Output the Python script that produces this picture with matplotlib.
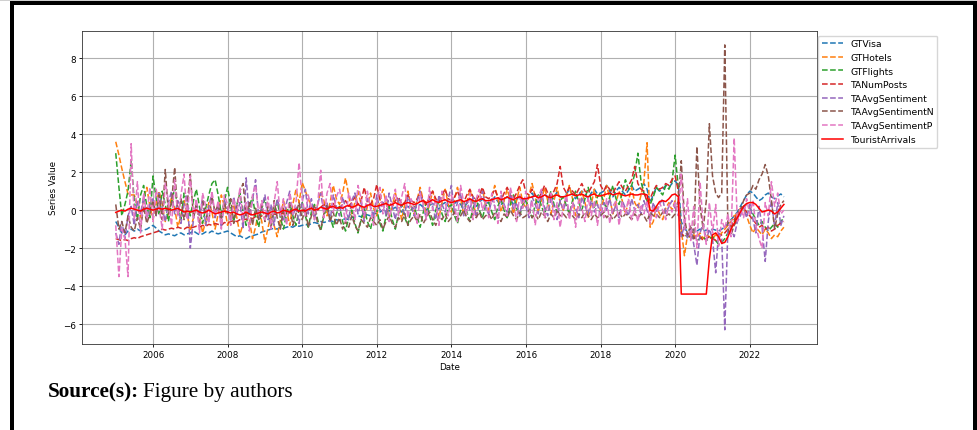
import matplotlib
matplotlib.use("Agg")
import matplotlib.pyplot as plt
import matplotlib.dates as mdates
from matplotlib.patches import Rectangle
import pandas as pd

dates = pd.date_range("2005-01-01", periods=216, freq="MS")

# monthly values, one row per year 2005..2022
gt_visa = [
    -0.6, -0.9, -1.2, -1.3, -1.1, -1.0, -1.1, -1.0, -1.1, -1.05, -1.0, -0.9,
    -0.8, -0.95, -1.1, -1.2, -1.3, -1.25, -1.3, -1.35, -1.25, -1.2, -1.3, -1.25,
    -1.2, -1.1, -1.2, -1.3, -1.25, -1.15, -1.2, -1.1, -1.2, -1.25, -1.2, -1.15,
    -1.1, -1.2, -1.3, -1.4, -1.35, -1.45, -1.5, -1.4, -1.35, -1.3, -1.25, -1.15,
    -1.1, -1.05, -1.0, -0.95, -1.0, -0.9, -0.95, -0.9, -0.85, -0.9, -0.8, -0.85,
    -0.8, -0.75, -0.8, -0.7, -0.65, -0.7, -0.6, -0.65, -0.6, -0.55, -0.6, -0.5,
    -0.55, -0.5, -0.45, -0.5, -0.4, -0.35, -0.3, -0.35, -0.2, -0.25, -0.3, -0.15,
    -0.2, -0.1, 0.0, 0.1, -0.05, 0.05, 0.15, 0.0, -0.1, 0.1, 0.2, 0.05,
    0.1, 0.2, 0.3, 0.15, 0.0, 0.25, 0.35, 0.2, 0.05, 0.3, 0.4, 0.2,
    0.25, 0.35, 0.5, 0.3, 0.1, 0.35, 0.55, 0.4, 0.2, 0.4, 0.6, 0.35,
    0.4, 0.5, 0.7, 0.45, 0.25, 0.5, 0.7, 0.55, 0.3, 0.55, 0.8, 0.5,
    0.55, 0.7, 0.9, 0.6, 0.4, 0.65, 0.85, 0.7, 0.45, 0.7, 0.95, 0.7,
    0.7, 0.85, 1.1, 0.8, 0.6, 0.85, 1.0, 0.85, 0.6, 0.9, 1.1, 0.85,
    0.9, 1.0, 1.3, 1.0, 0.7, 1.0, 1.2, 1.0, 0.8, 1.05, 1.3, 1.0,
    1.1, 1.2, 1.4, 1.1, 0.4, 0.8, 1.2, 1.0, 1.1, 1.3, 1.2, 1.4,
    1.55, 1.3, -0.6, -1.0, -1.1, -1.0, -1.05, -1.1, -1.0, -1.1, -1.05, -1.1,
    -1.0, -1.05, -1.1, -1.0, -0.9, -0.7, -0.5, -0.3, -0.1, 0.2, 0.5, 0.8,
    1.0, 0.9, 0.7, 0.5, 0.6, 0.8, 0.9, 0.7, 0.6, 0.75, 0.85, 0.7,
]

gt_hotels = [
    3.6, 2.9, 2.2, 1.5, 0.85, 0.8, 0.8, 0.3, -0.4, 0.6, 1.2, 0.2,
    -0.5, 0.4, 1.0, 0.3, -0.6, -0.2, 0.7, 0.1, -0.9, -0.3, 0.5, -0.2,
    -1.1, -0.4, 0.3, -0.3, -1.2, -0.6, 0.4, -0.1, -1.0, -0.2, 0.8, 0.2,
    -0.8, -0.3, 0.3, -0.4, -1.3, -0.7, 0.2, -0.5, -1.5, -0.9, 0.0, -0.6,
    -1.7, -0.9, -0.2, -0.8, -1.4, -0.5, 0.5, 0.0, -0.8, 0.3, 1.1, 0.4,
    1.45, 1.0, 0.6, 0.2, -0.4, 0.3, 1.0, 0.5, -0.3, 0.4, 1.3, 0.6,
    0.3, 0.9, 1.7, 0.8, -0.2, 0.4, 1.0, 0.3, -0.5, 0.2, 0.9, 0.1,
    -0.3, 0.5, 1.1, 0.4, -0.4, 0.2, 0.9, 0.3, -0.5, 0.3, 1.0, 0.2,
    -0.2, 0.6, 1.2, 0.5, -0.3, 0.3, 1.0, 0.4, -0.4, 0.4, 1.1, 0.3,
    -0.1, 0.6, 1.2, 0.6, -0.2, 0.4, 1.1, 0.4, -0.3, 0.4, 1.1, 0.3,
    0.0, 0.7, 1.3, 0.6, -0.1, 0.5, 1.1, 0.5, -0.2, 0.5, 1.2, 0.4,
    0.1, 0.8, 1.4, 0.7, -0.1, 0.5, 1.2, 0.5, -0.2, 0.5, 1.2, 0.4,
    0.0, 0.7, 1.3, 0.6, -0.3, 0.3, 1.0, 0.4, -0.4, 0.3, 1.1, 0.3,
    0.0, 0.6, 1.3, 0.6, -0.2, 0.4, 1.0, 0.5, -0.2, 0.5, 1.2, 0.4,
    0.1, 0.8, 1.5, 3.55, -0.9, -0.6, 0.2, -0.2, -0.5, 0.1, 0.4, 0.0,
    0.5, 0.3, -1.0, -2.4, -1.3, -1.5, -1.3, -1.4, -1.2, -1.5, -1.3, -1.4,
    -1.5, -1.3, -1.4, -1.2, -1.0, -0.8, -0.6, -0.3, -0.2, 0.1, 0.0, -0.3,
    -0.8, -1.2, -0.9, -1.1, -1.3, -1.0, -1.2, -1.5, -1.3, -1.4, -1.1, -0.9,
]

gt_flights = [
    3.0, 1.2, -0.3, 0.3, 1.0, 2.6, 0.5, -0.5, 0.8, 1.3, 0.2, -0.4,
    1.8, 0.6, -0.2, 1.0, 0.3, -0.6, 0.4, 1.2, 0.0, -0.5, 0.9, 0.4,
    -0.3, 0.5, 1.1, 0.2, -0.7, 0.1, 0.8, 1.4, 1.6, 0.8, -0.2, 0.5,
    1.2, 0.2, -0.6, 0.3, 0.9, -0.1, -0.8, 0.2, 0.7, -0.3, -0.9, 0.1,
    0.6, -0.2, -0.9, -0.1, 0.5, -0.4, -1.0, -0.2, 0.4, -0.3, -0.8, 0.0,
    0.4, -0.3, -0.9, -0.1, 0.3, -0.5, -1.1, -0.3, 0.2, -0.4, -0.9, -0.2,
    0.2, -0.6, -1.1, -0.4, 0.0, -0.7, -1.2, -0.5, 0.1, -0.6, -1.0, -0.3,
    0.0, -0.7, -1.1, -0.3, 0.2, -0.5, -1.0, -0.2, 0.3, -0.4, -0.8, 0.0,
    0.2, -0.4, -0.9, -0.1, 0.4, -0.3, -0.8, 0.0, 0.5, -0.2, -0.6, 0.1,
    0.3, -0.3, -0.7, 0.0, 0.5, -0.1, -0.6, 0.1, 0.6, 0.0, -0.4, 0.2,
    0.4, -0.1, -0.5, 0.2, 0.6, 0.0, -0.4, 0.3, 0.8, 0.1, -0.3, 0.3,
    0.5, 0.0, -0.4, 0.3, 0.8, 0.2, -0.2, 0.4, 1.0, 0.3, -0.1, 0.5,
    0.7, 0.2, -0.2, 0.5, 1.0, 0.4, 0.0, 0.6, 1.2, 0.5, 0.1, 0.7,
    0.9, 0.4, 0.1, 0.7, 1.3, 0.6, 0.3, 0.9, 1.6, 1.1, 1.3, 1.9,
    3.0, 1.5, 0.9, 0.5, 0.3, 0.7, 1.2, 1.0, 0.8, 1.3, 1.1, 1.5,
    2.9, 1.2, -1.3, -1.4, -1.3, -1.5, -1.4, -1.6, -1.5, -1.4, -1.6, -1.5,
    -1.4, -1.6, -1.8, -1.7, -1.5, -1.2, -0.9, -0.6, -0.3, 0.0, 0.2, 0.3,
    0.1, -0.2, -0.5, -0.8, -0.6, -0.9, -1.1, -0.9, -0.7, -0.9, -0.6, -0.4,
]

ta_num_posts = [
    -1.5, -1.55, -1.6, -1.55, -1.6, -1.5, -1.45, -1.5, -1.4, -1.35, -1.3, -1.25,
    -1.2, -1.15, -1.1, -1.0, -1.05, -1.0, -0.95, -1.0, -0.9, -0.95, -1.0, -0.9,
    -0.95, -0.9, -0.85, -0.9, -0.8, -0.85, -0.75, -0.8, -0.7, -0.75, -0.8, -0.65,
    -0.7, -0.6, -0.55, -0.6, -0.5, -0.45, -0.5, -0.4, -0.45, -0.35, -0.4, -0.3,
    -0.35, -0.25, -0.3, -0.2, -0.25, -0.15, -0.2, -0.1, -0.15, -0.05, 0.0, -0.1,
    -0.05, 0.05, 0.0, 0.1, 0.2, 0.0, 0.15, 0.3, 0.1, 0.2, 0.35, 0.15,
    0.1, 0.3, 0.5, 0.2, 0.4, 0.7, 0.3, 0.5, 1.2, 0.4, 0.3, 0.6,
    1.35, 0.5, 0.3, 0.6, 0.4, 0.2, 0.5, 0.7, 0.3, 0.4, 0.8, 0.5,
    0.4, 0.6, 0.9, 0.5, 0.3, 0.7, 1.0, 0.6, 0.4, 0.8, 1.1, 0.6,
    0.5, 0.7, 1.0, 0.6, 0.4, 0.8, 1.1, 0.7, 0.5, 0.8, 1.2, 0.7,
    0.6, 0.8, 1.1, 0.7, 0.5, 0.9, 1.2, 0.8, 0.6, 0.9, 1.3, 1.6,
    0.9, 0.8, 1.1, 0.8, 0.6, 0.9, 1.3, 0.9, 0.7, 1.0, 1.4, 2.3,
    1.2, 0.9, 1.2, 1.0, 0.8, 1.1, 1.4, 1.0, 0.9, 1.2, 1.5, 2.4,
    1.3, 1.0, 1.3, 1.1, 0.9, 1.2, 1.5, 1.2, 1.0, 1.3, 1.6, 2.3,
    1.4, 1.1, 1.0, 0.4, 0.6, 1.0, 1.3, 1.1, 1.2, 1.4, 1.3, 1.6,
    1.8, 1.0, -1.2, -1.4, -1.3, -1.4, -1.5, -1.3, -1.4, -1.6, -1.5, -1.4,
    -1.5, -1.6, -1.4, -1.3, -1.2, -1.0, -0.8, -0.5, -0.2, 0.0, 0.1, -0.1,
    -0.3, -0.5, -0.7, -0.9, -0.8, -1.0, -0.9, -1.1, -1.0, -0.8, -0.7, -0.6,
]

ta_avg_sentiment = [
    -1.2, -1.8, -0.6, -1.5, -0.3, 0.2, -0.8, 0.5, -0.2, 0.7, -0.5, 0.3,
    0.6, -0.3, 0.9, 0.1, -0.6, 0.4, 1.0, -0.2, 0.5, -0.7, 0.3, 0.8,
    -2.0, -0.5, 0.4, -0.3, 0.6, -0.8, 0.2, 0.9, -0.4, 0.3, -0.9, 0.5,
    0.1, -0.6, 0.7, -0.2, 0.4, -1.0, 1.7, -0.3, 0.5, 1.6, -0.4, 0.2,
    0.8, -0.5, 0.3, -0.8, 0.6, 0.0, -0.6, 0.4, 1.0, -0.3, 0.2, -0.7,
    0.5, 1.1, -0.2, 0.6, -0.5, 0.3, 0.9, -0.1, 0.4, -0.6, 0.8, 0.2,
    -0.3, 0.7, 0.1, -0.5, 0.5, 0.9, -0.2, 0.4, -0.6, 0.6, 0.2, -0.4,
    0.8, 0.0, 0.5, -0.3, 0.9, 0.2, -0.5, 0.6, 0.1, -0.2, 0.7, 0.3,
    -0.3, 0.5, 1.0, 0.1, -0.4, 0.6, 0.2, -0.5, 0.8, 0.3, -0.1, 0.6,
    1.3, -0.2, 0.4, 0.9, -0.3, 0.5, 0.0, 0.7, -0.4, 0.3, 1.0, 0.1,
    -0.2, 0.6, 0.2, -0.5, 0.8, 0.3, -0.1, 0.9, 0.0, 0.4, -0.3, 0.7,
    0.2, -0.4, 0.7, 0.3, -0.2, 1.0, 0.1, -0.3, 0.6, 0.2, -0.5, 0.5,
    0.0, 0.6, -0.3, 0.4, 0.1, -0.4, 0.7, 0.2, -0.2, 0.5, -0.1, 0.3,
    -0.3, 0.4, 0.0, 0.6, -0.2, 0.3, -0.4, 0.5, 0.1, -0.3, 0.6, 0.0,
    0.3, -0.2, 0.5, 0.0, -0.5, 0.4, -0.1, 0.3, 0.6, -0.2, 0.2, 0.5,
    0.1, 0.4, -1.4, -0.8, -1.5, -0.9, -1.8, -2.9, -1.2, -0.7, -1.6, -1.0,
    -1.5, -3.3, -1.2, -1.5, -6.3, -0.9, -1.0, -1.4, -0.6, -0.3, 0.2, -0.4,
    0.3, -0.5, -1.2, 0.2, -0.9, -2.7, -0.6, 0.5, -0.9, 0.4, -0.8, -0.3,
]

ta_avg_sentiment_n = [
    0.3, -1.0, -0.6, -1.2, -0.3, -0.9, -1.1, -0.4, -1.0, 0.2, -0.7, -0.2,
    0.5, -0.3, 0.8, -0.5, 2.14, -0.2, 0.4, 2.25, -0.3, 0.6, -0.5, 0.3,
    1.9, -0.4, 0.3, -0.8, 0.5, -0.2, -0.6, 0.7, -0.1, 0.3, -0.5, 0.4,
    -0.2, 0.6, -0.7, 0.2, 1.0, 1.4, -0.3, 0.4, -0.8, 0.1, -0.5, 0.3,
    -0.6, 0.2, -0.9, 0.5, -0.4, -1.0, 0.1, -0.6, 0.3, -0.8, -0.2, 0.4,
    -0.5, 0.1, -0.9, -0.3, 0.2, -0.7, -1.0, -0.2, 0.3, -0.6, -0.1, -0.8,
    -0.4, -1.0, -0.6, -0.9, -0.3, -0.8, -1.1, -0.5, -0.7, -0.9, -0.4, -0.6,
    -0.8, -0.5, -1.0, -0.6, -0.3, -0.7, -0.9, -0.4, -0.6, -0.2, -0.8, -0.5,
    -0.3, -0.6, -0.2, -0.7, -0.4, -0.1, -0.5, -0.8, -0.3, -0.5, -0.2, -0.6,
    -0.4, -0.1, -0.5, -0.3, 0.0, -0.4, -0.6, -0.2, -0.4, -0.1, -0.5, -0.3,
    -0.2, -0.5, -0.1, -0.3, -0.6, -0.2, -0.4, 0.0, -0.3, -0.5, -0.1, -0.4,
    -0.3, 0.0, -0.4, -0.2, -0.5, -0.1, -0.3, -0.6, -0.2, -0.4, 0.0, -0.3,
    -0.2, -0.4, -0.1, -0.3, -0.5, -0.2, -0.4, -0.1, -0.3, -0.5, -0.2, -0.4,
    -0.3, -0.1, -0.4, -0.2, -0.5, -0.3, -0.1, -0.4, -0.2, -0.3, -0.5, -0.2,
    -0.4, -0.2, -0.3, -0.6, -0.1, -0.3, -0.2, -0.4, -0.1, -0.3, -0.2, -0.4,
    -0.2, 0.5, 2.6, -0.4, -1.3, -0.8, -1.5, 3.35, 0.2, -1.0, 0.5, 4.55,
    1.8, 0.9, 0.66, 0.9, 8.7, -1.0, -1.3, -0.8, -0.5, 0.0, 0.5, 0.8,
    0.9, 1.3, 1.1, 1.6, 1.9, 2.4, 1.8, 0.5, -1.0, -0.2, 0.3, 0.5,
]

ta_avg_sentiment_p = [
    -0.8, -3.5, -1.0, -1.5, -3.5, 3.5, -0.5, 1.5, -1.2, 0.9, -0.4, 1.2,
    -0.6, 1.1, 0.2, -1.0, 1.4, 0.5, -0.8, 1.6, -0.3, 0.8, 1.9, -0.5,
    1.8, -0.4, 0.6, -1.2, 0.9, 0.2, -0.7, 1.0, -0.3, 0.5, -1.0, 0.8,
    0.3, -0.8, 0.6, -0.2, 1.2, -0.6, 0.4, -1.1, 0.8, 1.3, -0.2, 0.5,
    -0.5, 0.7, -1.0, 0.4, 1.5, -0.3, 0.6, -0.8, 0.9, -0.2, 0.4, 2.5,
    0.6, -0.3, 0.8, 0.1, -0.5, 0.3, 2.1, -0.4, 0.9, 1.4, -0.1, 0.7,
    1.1, 0.2, -0.6, 0.9, 0.4, -0.5, 1.3, 0.6, -0.3, 1.0, 0.1, -0.8,
    0.5, 1.2, -0.2, 0.8, -0.6, 0.4, 1.1, -0.3, 0.7, 1.4, -0.4, 0.6,
    0.1, -0.7, 0.9, 0.3, -0.5, 1.2, 0.0, 0.6, -0.8, 1.0, 0.4, -0.3,
    0.8, 0.2, -0.6, 1.3, 0.4, -0.2, 0.9, -0.5, 0.6, 1.1, 0.0, 0.5,
    -0.4, 0.9, 0.3, -0.7, 1.0, 0.2, -0.3, 1.2, 0.5, -0.6, 0.8, 0.1,
    1.0, -0.2, 0.5, -0.8, 0.7, 1.1, -0.4, 0.3, 0.9, -0.5, 0.4, -0.9,
    0.2, 0.8, -0.5, 0.4, -0.9, 0.6, 0.1, -0.6, 0.7, -0.3, 0.5, -0.8,
    0.3, -0.4, 0.6, -0.7, 0.2, 0.5, -0.8, 0.4, -0.2, 0.6, -0.5, 0.1,
    -0.6, 0.3, -0.2, 0.5, -0.7, 0.2, -0.4, 0.4, 0.0, -0.5, 0.3, -0.1,
    0.4, -0.3, 1.9, -1.0, 0.6, -1.6, 0.2, -2.0, 1.5, -0.8, -1.8, 0.4,
    -1.2, 0.3, -1.9, -0.5, -1.0, -0.2, -1.4, 3.8, -0.6, 0.1, -0.4, 0.6,
    -0.2, 0.5, -0.8, -1.5, -2.0, 0.4, -0.3, 1.5, 0.2, 0.9, -0.2, 0.0,
]

tourist_arrivals = [
    -0.12, -0.05, 0.0, -0.05, 0.05, 0.1, 0.05, 0.0, -0.05, 0.05, 0.1, 0.05,
    0.0, 0.05, 0.1, 0.05, 0.1, 0.05, 0.0, 0.05, 0.1, 0.0, -0.1, -0.05,
    -0.1, -0.05, 0.0, -0.1, -0.15, -0.1, 0.0, -0.1, -0.2, -0.15, -0.1, -0.05,
    -0.1, -0.15, -0.1, -0.2, -0.25, -0.2, -0.1, -0.2, -0.25, -0.2, -0.15, -0.1,
    -0.15, -0.2, -0.1, -0.05, -0.15, -0.1, 0.0, -0.05, -0.1, 0.0, 0.05, -0.05,
    0.0, -0.05, 0.05, 0.1, 0.0, 0.05, 0.15, 0.1, 0.05, 0.15, 0.2, 0.1,
    0.15, 0.1, 0.2, 0.25, 0.15, 0.2, 0.3, 0.2, 0.15, 0.25, 0.3, 0.2,
    0.2, 0.25, 0.3, 0.35, 0.25, 0.3, 0.4, 0.3, 0.25, 0.35, 0.4, 0.35,
    0.3, 0.35, 0.45, 0.5, 0.4, 0.45, 0.55, 0.45, 0.4, 0.5, 0.55, 0.45,
    0.4, 0.45, 0.5, 0.55, 0.45, 0.5, 0.6, 0.5, 0.45, 0.55, 0.6, 0.5,
    0.5, 0.55, 0.6, 0.65, 0.55, 0.6, 0.7, 0.6, 0.55, 0.65, 0.7, 0.6,
    0.6, 0.65, 0.7, 0.75, 0.65, 0.7, 0.8, 0.7, 0.65, 0.75, 0.8, 0.7,
    0.7, 0.75, 0.8, 0.85, 0.75, 0.8, 0.85, 0.75, 0.7, 0.8, 0.85, 0.75,
    0.75, 0.8, 0.85, 0.9, 0.8, 0.85, 0.9, 0.8, 0.75, 0.8, 0.85, 0.8,
    0.8, 0.85, 0.85, 0.8, 0.0, -0.05, 0.2, 0.45, 0.5, 0.45, 0.6, 0.8,
    0.85, 0.7, -4.42, -4.42, -4.42, -4.42, -4.42, -4.42, -4.42, -4.42, -4.42, -2.6,
    -1.3, -1.2, -1.4, -1.75, -1.7, -1.4, -1.0, -0.7, -0.4, -0.1, 0.2, 0.35,
    0.4, 0.4, 0.3, 0.1, -0.1, -0.05, 0.0, -0.05, -0.2, -0.1, 0.1, 0.3,
]

series = [
    ("GTVisa", gt_visa, "C0", "--"),
    ("GTHotels", gt_hotels, "C1", "--"),
    ("GTFlights", gt_flights, "C2", "--"),
    ("TANumPosts", ta_num_posts, "C3", "--"),
    ("TAAvgSentiment", ta_avg_sentiment, "C4", "--"),
    ("TAAvgSentimentN", ta_avg_sentiment_n, "C5", "--"),
    ("TAAvgSentimentP", ta_avg_sentiment_p, "C6", "--"),
    ("TouristArrivals", tourist_arrivals, "red", "-"),
]

fs = 6.3
fig = plt.figure(figsize=(9.78, 4.31), dpi=100)
ax = fig.add_axes([0.0842, 0.1995, 0.7515, 0.727])

for name, vals, col, ls in series:
    ax.plot(dates, vals, ls, color=col, lw=1.1, label=name)

ax.xaxis.set_major_locator(mdates.YearLocator(2))
ax.xaxis.set_major_formatter(mdates.DateFormatter("%Y"))
ax.grid(True, color="#b0b0b0", lw=0.8)
ax.tick_params(labelsize=fs, length=2.5, width=0.6, pad=2)
for sp in ax.spines.values():
    sp.set_linewidth(0.6)
    sp.set_color("#333333")
ax.set_xlabel("Date", fontsize=fs, labelpad=2)
ax.set_ylabel("Series Value", fontsize=fs, labelpad=4)

fig.legend(loc="upper left", bbox_to_anchor=(818.5 / 978, 1 - 36.5 / 431),
           fontsize=6.7, borderaxespad=0, framealpha=0.8, edgecolor="#cccccc",
           handlelength=2.2)

# caption below the chart
serif = "Liberation Serif"
t1 = fig.text(48 / 978, 1 - 397 / 431, "Source(s):", fontsize=15.3, fontweight="bold",
              family=serif, va="baseline")
fig.canvas.draw()
bb = t1.get_window_extent(fig.canvas.get_renderer())
fig.text(bb.x1 / 978 + 4 / 978, 1 - 397 / 431, "Figure by authors", fontsize=15.3,
         family=serif, va="baseline")

# page frame
W, H = 978, 431
fig.add_artist(Rectangle((10 / W, 1 - 6 / H), 967 / W, 4 / H, transform=fig.transFigure,
                         color="black", lw=0))
fig.add_artist(Rectangle((10 / W, 0), 4 / W, 1 - 2 / H, transform=fig.transFigure,
                         color="black", lw=0))
fig.add_artist(Rectangle((973 / W, 0), 4 / W, 1 - 2 / H, transform=fig.transFigure,
                         color="black", lw=0))
fig.add_artist(Rectangle((0, 1 - 1.5 / H), 1, 1.5 / H, transform=fig.transFigure,
                         color="#d0d0d0", lw=0))

fig.savefig("out.png", dpi=100)
